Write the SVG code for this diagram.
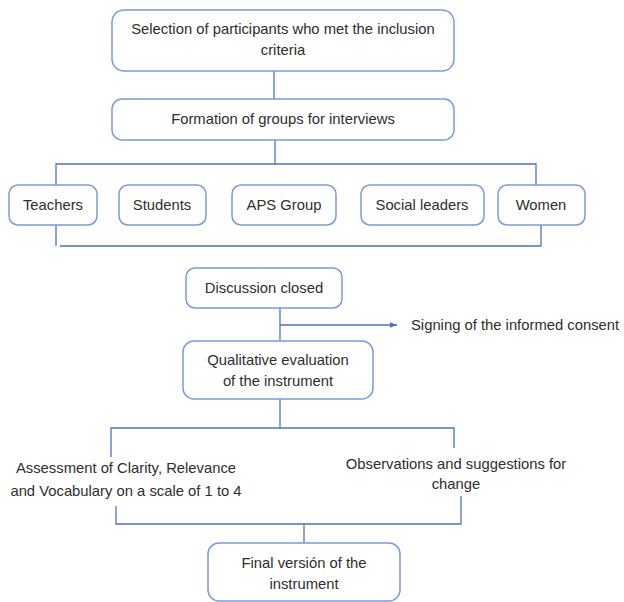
<svg xmlns="http://www.w3.org/2000/svg" width="624" height="602" viewBox="0 0 624 602">
<style>
.box{fill:#fff;stroke:#7a9ad8;stroke-width:1.5}
.ln{fill:none;stroke:#4a74c4;stroke-width:1.3}
text{font-family:"Liberation Sans",Arial,sans-serif;font-size:14.8px;fill:#2e2e2e;text-anchor:middle}
.l{text-anchor:start}
</style>
<defs>
<marker id="arr" viewBox="0 0 10 10" refX="10" refY="5" markerWidth="7" markerHeight="7" orient="auto" markerUnits="userSpaceOnUse">
<path d="M0,1 L10,5 L0,9 z" fill="#4a74c4"/>
</marker>
</defs>
<rect width="624" height="602" fill="#fff"/>
<g id="connectors">
<path class="ln" d="M274,71 V100"/>
<path class="ln" d="M275,140 V164 M56,185 V164 H536 V185"/>
<path class="ln" d="M56,225 V246 M60,246 H541 V225"/>
<path class="ln" d="M280,308 V341"/>
<path class="ln" d="M280,325 H397" marker-end="url(#arr)"/>
<path class="ln" d="M280,399 V428 M111,457 V428 H454 V448"/>
<path class="ln" d="M116,506 V524 H461 V496 M304,524 V543"/>
</g>
<g id="n1"><rect class="box" x="112" y="10" width="342" height="61" rx="12"/><text x="283" y="34">Selection of participants who met the inclusion</text><text x="283" y="55">criteria</text></g>
<g id="n2"><rect class="box" x="112" y="99" width="342" height="41" rx="10"/><text x="283" y="124">Formation of groups for interviews</text></g>
<g id="teachers"><rect class="box" x="9" y="185" width="88" height="40" rx="9"/><text x="53" y="210">Teachers</text></g>
<g id="students"><rect class="box" x="119" y="185" width="87" height="40" rx="9"/><text x="162" y="210">Students</text></g>
<g id="aps"><rect class="box" x="232" y="185" width="104" height="40" rx="9"/><text x="284" y="210">APS Group</text></g>
<g id="social"><rect class="box" x="361" y="185" width="123" height="40" rx="9"/><text x="422" y="210">Social leaders</text></g>
<g id="women"><rect class="box" x="498" y="185" width="87" height="40" rx="9"/><text x="541" y="210">Women</text></g>
<g id="discussion"><rect class="box" x="186" y="268" width="156" height="40" rx="9"/><text x="264" y="293">Discussion closed</text></g>
<g id="consent"><text class="l" x="411" y="330">Signing of the informed consent</text></g>
<g id="qualitative"><rect class="box" x="183" y="341" width="190" height="58" rx="11"/><text x="278" y="365">Qualitative evaluation</text><text x="278" y="386">of the instrument</text></g>
<g id="assessment"><text x="126" y="473">Assessment of Clarity, Relevance</text><text x="126" y="496">and Vocabulary on a scale of 1 to 4</text></g>
<g id="observations"><text x="456" y="469">Observations and suggestions for</text><text x="456" y="489">change</text></g>
<g id="final"><rect class="box" x="208" y="543" width="192" height="58" rx="11"/><text x="304" y="568">Final versión of the</text><text x="304" y="589">instrument</text></g>
</svg>
